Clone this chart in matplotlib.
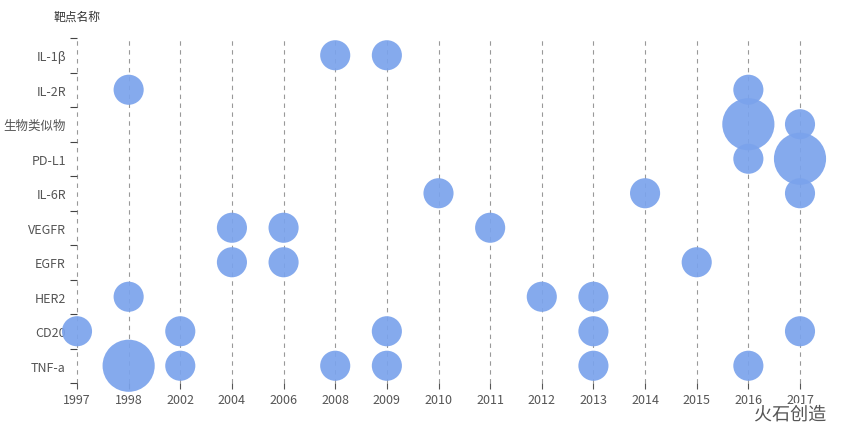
import matplotlib.pyplot as plt
import matplotlib.patheffects as pe

plt.rcParams['font.family'] = ['Noto Sans CJK SC', 'DejaVu Sans']

# categories
years = ['1997', '1998', '2002', '2004', '2006', '2008', '2009', '2010',
         '2011', '2012', '2013', '2014', '2015', '2016', '2017']
targets = ['TNF-a', 'CD20', 'HER2', 'EGFR', 'VEGFR', 'IL-6R', 'PD-L1',
           '生物类似物', 'IL-2R', 'IL-1β']

# bubbles: (target, year, count)
pt_target = ['IL-1β', 'IL-1β',
             'IL-2R', 'IL-2R',
             '生物类似物', '生物类似物',
             'PD-L1', 'PD-L1',
             'IL-6R', 'IL-6R', 'IL-6R',
             'VEGFR', 'VEGFR', 'VEGFR',
             'EGFR', 'EGFR', 'EGFR',
             'HER2', 'HER2', 'HER2',
             'CD20', 'CD20', 'CD20', 'CD20', 'CD20',
             'TNF-a', 'TNF-a', 'TNF-a', 'TNF-a', 'TNF-a', 'TNF-a']
pt_year = ['2008', '2009',
           '1998', '2016',
           '2016', '2017',
           '2016', '2017',
           '2010', '2014', '2017',
           '2004', '2006', '2011',
           '2004', '2006', '2015',
           '1998', '2012', '2013',
           '1997', '2002', '2009', '2013', '2017',
           '1998', '2002', '2008', '2009', '2013', '2016']
pt_count = [1, 1,
            1, 1,
            3, 1,
            1, 3,
            1, 1, 1,
            1, 1, 1,
            1, 1, 1,
            1, 1, 1,
            1, 1, 1, 1, 1,
            3, 1, 1, 1, 1, 1]

W, H = 864, 439
fig = plt.figure(figsize=(W / 100, H / 100), dpi=100)
ax = fig.add_axes([77 / W, (H - 384) / H, (800 - 77) / W, (384 - 39) / H])

xs = [years.index(y) for y in pt_year]
ys = [targets.index(t) for t in pt_target]
sizes = [470 * c for c in pt_count]
ax.scatter(xs, ys, s=sizes, color='#7ba3ec', alpha=0.92, linewidths=0,
           zorder=3, clip_on=False)

ax.set_xlim(0, len(years) - 1)
ax.set_ylim(-0.5, len(targets) - 0.5)

ax.set_xticks(range(len(years)))
ax.set_xticklabels(years)
# dashed vertical lines at every year (edges included, not clipped)
for i in range(len(years)):
    ax.axvline(i, linestyle=(0, (4, 4)), color='#999999', linewidth=0.8,
               zorder=0, clip_on=False)

# y ticks at the category boundaries, labels centred in between
ax.set_yticks([i - 0.5 for i in range(len(targets) + 1)])
ax.set_yticklabels([])
ax.set_yticks(range(len(targets)), minor=True)
ax.set_yticklabels(targets, minor=True)
ax.tick_params(axis='y', which='major', length=5, color='#444444', width=0.8)
ax.tick_params(axis='y', which='minor', length=0, pad=8, labelsize=9,
               labelcolor='#555555')
ax.tick_params(axis='x', length=4, color='#555555', width=0.8, pad=3,
               labelsize=9, labelcolor='#555555')

for s in ax.spines.values():
    s.set_visible(False)

fig.text(77 / W, 1 - 17 / H, '靶点名称', ha='center', va='center',
         fontsize=8.5, color='#333333')

# watermark
fig.text(790 / W, 1 - 416 / H, '火石创造', ha='center', va='center',
         fontsize=13, color='#555555',
         path_effects=[pe.withStroke(linewidth=3, foreground='white')])

fig.savefig('out.png', dpi=100)
